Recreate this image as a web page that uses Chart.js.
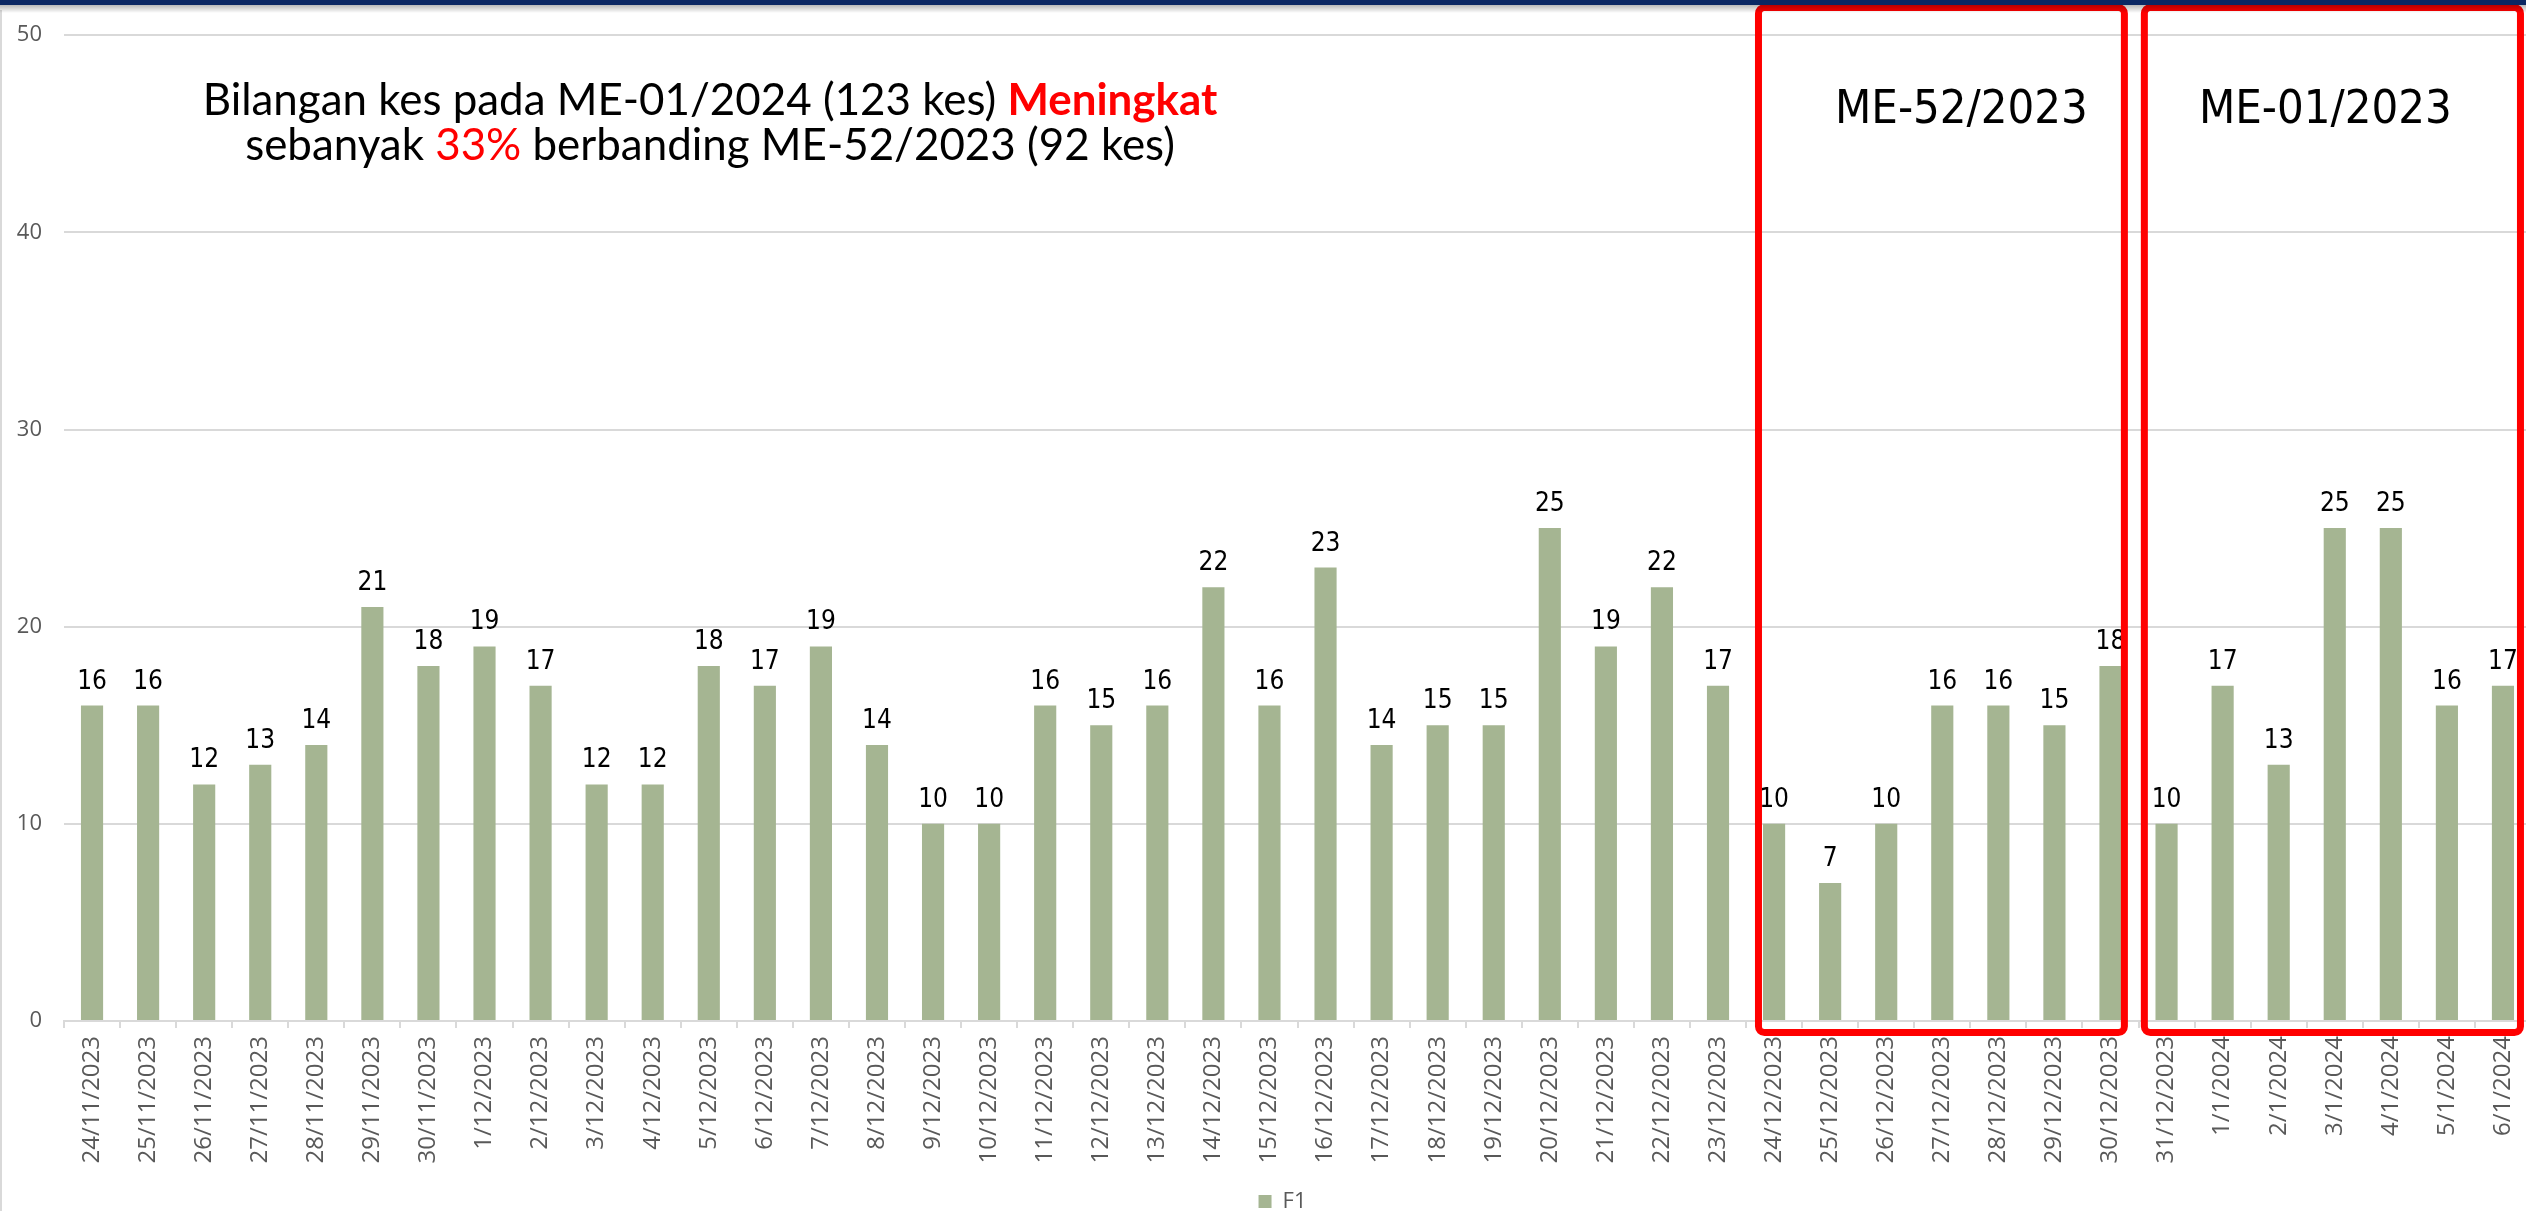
<!DOCTYPE html>
<html><head><meta charset="utf-8">
<script src="https://cdn.jsdelivr.net/npm/chart.js@4"></script>
<style>
html,body{margin:0;padding:0;overflow:hidden;background:#fff;width:2526px;height:1211px}
#wrap{position:absolute;left:0;top:0;width:2545px;height:1240px}
</style></head><body>
<div id="wrap"><canvas id="c"></canvas></div>
<script>
const categories = ['24/11/2023','25/11/2023','26/11/2023','27/11/2023','28/11/2023','29/11/2023','30/11/2023',
 '1/12/2023','2/12/2023','3/12/2023','4/12/2023','5/12/2023','6/12/2023','7/12/2023','8/12/2023','9/12/2023','10/12/2023',
 '11/12/2023','12/12/2023','13/12/2023','14/12/2023','15/12/2023','16/12/2023','17/12/2023','18/12/2023','19/12/2023','20/12/2023',
 '21/12/2023','22/12/2023','23/12/2023','24/12/2023','25/12/2023','26/12/2023','27/12/2023','28/12/2023','29/12/2023','30/12/2023',
 '31/12/2023','1/1/2024','2/1/2024','3/1/2024','4/1/2024','5/1/2024','6/1/2024'];
const seriesName = 'F1';
const values = [16,16,12,13,14,21,18, 19,17,12,12,18,17,19,14,10,10, 16,15,16,22,16,23,14,15,15,25, 19,22,17,10,7,10,16,16,15,18, 10,17,13,25,25,16,17];
const yTicks = [0,10,20,30,40,50];
const noteLine1 = ['Bilangan kes pada ME-01/2024 (123 kes) ', 'Meningkat'];
const noteLine2 = ['sebanyak ', '33%', ' berbanding ME-52/2023 (92 kes)'];
const boxLabels = ['ME-52/2023', 'ME-01/2023'];
const boxFrom = ['24/12/2023', '31/12/2023'];
const boxTo = ['30/12/2023', '6/1/2024'];

const BAR = '#a5b592', GREY = '#595959', GRID = '#d9d9d9';
const condensed = '"Liberation Sans Narrow", "DejaVu Sans Condensed", "Open Sans", sans-serif';

function fitSize(ctx, segs, target) {
  let w = 0;
  segs.forEach(s => { ctx.font = `${s.bold ? 'bold ' : ''}100px ${s.family}`; w += ctx.measureText(s.text).width; });
  return 100 * target / w;
}
function drawSegs(ctx, segs, size, cx, y) {
  let w = 0;
  segs.forEach(s => { ctx.font = `${s.bold ? 'bold ' : ''}${size}px ${s.family}`; s.w = ctx.measureText(s.text).width; w += s.w; });
  let x = cx - w / 2;
  ctx.textAlign = 'left'; ctx.textBaseline = 'alphabetic';
  segs.forEach(s => { ctx.font = `${s.bold ? 'bold ' : ''}${size}px ${s.family}`; ctx.fillStyle = s.color; ctx.fillText(s.text, x, y); x += s.w; });
}

const deco = {
  id: 'deco',
  afterLayout(chart) {
    if (chart.legend) { chart.legend.left += 17; chart.legend.right += 17; }
  },
  afterDatasetsDraw(chart) {
    const ctx = chart.ctx, xs = chart.scales.x, ca = chart.chartArea;
    const meta = chart.getDatasetMeta(0);
    ctx.save();
    // data labels
    ctx.font = `26px ${condensed}`;
    ctx.fillStyle = '#000'; ctx.textAlign = 'center'; ctx.textBaseline = 'alphabetic';
    meta.data.forEach((bar, i) => ctx.fillText(String(values[i]), bar.x, bar.y - 17));
    // red week boxes
    const pads = [[-15.6, 13.9, 20], [-22.2, 17.5, -7]];
    ctx.strokeStyle = '#ff0000'; ctx.lineWidth = 7; ctx.lineJoin = 'round';
    boxLabels.forEach((lab, k) => {
      const a = xs.getPixelForValue(categories.indexOf(boxFrom[k])) + pads[k][0];
      const b = xs.getPixelForValue(categories.indexOf(boxTo[k])) + pads[k][1];
      const top = 7.5, bot = ca.bottom + 11.5;
      ctx.beginPath(); ctx.roundRect(a, top, b - a, bot - top, 6); ctx.stroke();
      const sz = fitSize(ctx, [{text: lab, family: condensed}], 253);
      ctx.font = `${sz}px ${condensed}`; ctx.fillStyle = '#000'; ctx.textAlign = 'center';
      ctx.fillText(lab, (a + b) / 2 + pads[k][2], 123);
    });
    ctx.restore();
  },
  afterDraw(chart) {
    const ctx = chart.ctx;
    ctx.save();
    // annotation text
    const fam = 'Lato, "Open Sans", sans-serif';
    const l1 = [{text: noteLine1[0], family: fam, color: '#000'}, {text: noteLine1[1], family: fam, color: '#ff0000', bold: true}];
    const l2 = [{text: noteLine2[0], family: fam, color: '#000'}, {text: noteLine2[1], family: fam, color: '#ff0000'}, {text: noteLine2[2], family: fam, color: '#000'}];
    const sz = fitSize(ctx, l1, 1015);
    drawSegs(ctx, l1, sz, 710, 115);
    drawSegs(ctx, l2, sz, 710, 160);
    // slide frame
    ctx.fillStyle = '#d9d9d9'; ctx.fillRect(0, 10, 2, 1240);
    const g = ctx.createLinearGradient(0, 5, 0, 13);
    g.addColorStop(0, 'rgba(0,0,0,0.28)'); g.addColorStop(1, 'rgba(0,0,0,0)');
    ctx.fillStyle = g; ctx.fillRect(0, 5, 2545, 8);
    ctx.fillStyle = '#0b2763'; ctx.fillRect(0, 0, 2545, 5);
    ctx.restore();
  }
};

new Chart(document.getElementById('c'), {
  type: 'bar',
  data: { labels: categories, datasets: [{ label: seriesName, data: values, backgroundColor: BAR, barPercentage: 0.79, categoryPercentage: 0.5 }] },
  options: {
    responsive: true, maintainAspectRatio: false, animation: false,
    layout: { padding: { top: 35, right: 14, left: 0, bottom: 17.5 } },
    plugins: {
      legend: { position: 'bottom', labels: { boxWidth: 13, boxHeight: 13, padding: 10, color: GREY, font: { family: 'Open Sans', size: 22 } } },
      tooltip: { enabled: false }
    },
    scales: {
      x: {
        grid: { display: true, drawOnChartArea: false, drawTicks: true, tickLength: 7, color: GRID, lineWidth: 2, offset: true },
        border: { display: true, color: GRID, width: 2 },
        ticks: { minRotation: 90, maxRotation: 90, autoSkip: false, padding: 8, color: GREY, font: { family: 'Open Sans', size: 24 } },
        afterFit: s => { s.height = 159.5; }
      },
      y: {
        min: 0, max: 50,
        afterBuildTicks: s => { s.ticks = yTicks.map(v => ({ value: v })); },
        ticks: { padding: 22, color: GREY, font: { family: 'Open Sans', size: 22 } },
        grid: { color: GRID, lineWidth: 2, drawTicks: false },
        border: { display: false },
        afterFit: s => { s.width = 64; }
      }
    }
  },
  plugins: [deco]
});
</script>
</body></html>
